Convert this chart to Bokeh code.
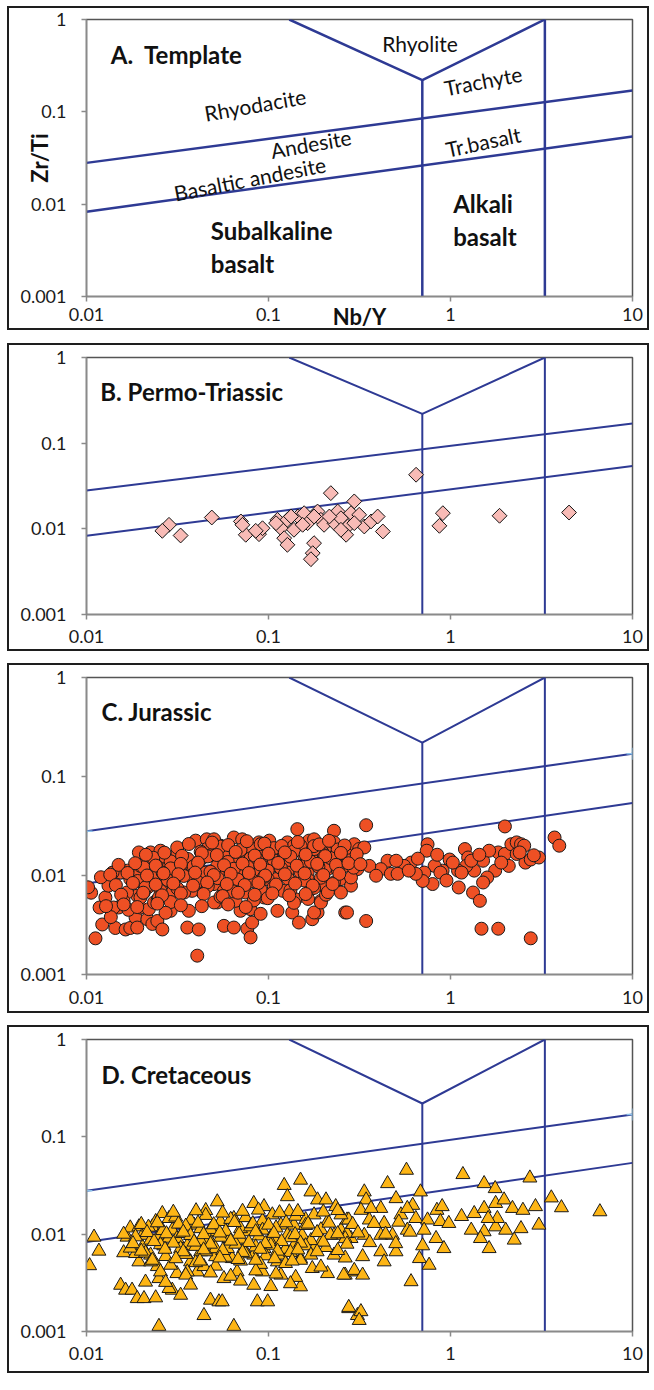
import numpy as np
from bokeh.plotting import figure
from bokeh.layouts import column
from bokeh.models import Range1d, FixedTicker, NumeralTickFormatter
from bokeh.core.properties import value
from bokeh.embed import file_html
from bokeh.resources import INLINE

FONT = "Lato"
LINE_BLUE = "#2E3A94"
INK = "#111111"

# ---- axis ticks ----
x_ticks = [0.01, 0.1, 1, 10]
y_ticks = [0.001, 0.01, 0.1, 1]

# ---- field boundaries (Nb/Y vs Zr/Ti) ----
upper_x = [0.01, 10]
upper_y = [0.028, 0.17]
lower_x = [0.01, 10]
lower_y = [0.0083, 0.054]
chevron_x = [0.13, 0.7, 3.3]
chevron_y = [1.0, 0.22, 1.0]
split_x = [0.7, 0.7]
split_y = [0.001, 0.22]
alkali_x = [3.3, 3.3]
alkali_y = [0.001, 1.0]
anchor_x = [0.01, 10]
anchor_y = [0.028, 0.17]

# ---- field names (template panel) ----
field_names = ["Rhyolite", "Trachyte", "Rhyodacite", "Andesite", "Basaltic andesite", "Tr.basalt"]
field_x = [0.68, 1.51, 0.0845, 0.171, 0.079, 1.51]
field_y = [0.55, 0.218, 0.120, 0.0454, 0.019, 0.0477]
field_angle_deg = [0, 11, 10, 10, 11, 12]

basalt_names = ["Subalkaline", "basalt", "Alkali", "basalt"]
basalt_x = [0.0482, 0.0482, 1.035, 1.035]
basalt_y = [0.00519, 0.00228, 0.01016, 0.00447]

# ---- B. Permo-Triassic ----
b_nby = [0.647, 0.220, 0.296, 0.0488, 0.0284, 0.0261, 0.0329, 0.0705, 0.0750, 0.0887,
         0.0927, 0.112, 0.117, 0.122, 0.127, 0.127, 0.138, 0.145, 0.157, 0.164,
         0.178, 0.175, 0.171, 0.186, 0.194, 0.202, 0.230, 0.240, 0.250, 0.272,
         0.267, 0.284, 0.315, 0.336, 0.366, 0.398, 0.425, 0.154, 0.133, 0.110,
         0.216, 0.250, 0.296, 0.178, 0.0851, 0.0719, 0.908, 0.869, 1.86, 4.48]
b_zrti = [0.0428, 0.0261, 0.0209, 0.01356, 0.01114, 0.00948, 0.00836, 0.0122, 0.00852, 0.00866,
          0.01017, 0.01275, 0.01017, 0.00778, 0.00651, 0.01275, 0.00975, 0.01393, 0.01523, 0.01164,
          0.00680, 0.00520, 0.00442, 0.01593, 0.01275, 0.01114, 0.01164, 0.01593, 0.0133, 0.01065,
          0.00852, 0.01523, 0.01459, 0.01065, 0.0122, 0.01393, 0.00931, 0.01114, 0.01393, 0.01164,
          0.01393, 0.00975, 0.01164, 0.01393, 0.00948, 0.01114, 0.01523, 0.01084, 0.0142, 0.0155]

# ---- C. Jurassic ----
c_nby = [0.0106, 0.0102, 0.0112, 0.0118, 0.0122, 0.0144, 0.0150, 0.0154, 0.0164, 0.0174,
         0.0186, 0.0190, 0.0194, 0.0198, 0.0216, 0.0220, 0.0230, 0.0235, 0.0245, 0.0261,
         0.0174, 0.0186, 0.0211, 0.0225, 0.0245, 0.0255, 0.0266, 0.0284, 0.0290, 0.0302,
         0.0322, 0.0329, 0.0296, 0.0358, 0.0365, 0.0373, 0.0398, 0.0414, 0.0406, 0.0424,
         0.0458, 0.0458, 0.0452, 0.0502, 0.0523, 0.0545, 0.0557, 0.0569, 0.0569, 0.0645,
         0.0632, 0.0645, 0.0702, 0.0702, 0.0717, 0.0748, 0.0765, 0.0797, 0.0813, 0.0797,
         0.0868, 0.0886, 0.0905, 0.0945, 0.101, 0.103, 0.110, 0.112, 0.117, 0.127,
         0.132, 0.135, 0.141, 0.144, 0.147, 0.150, 0.157, 0.167, 0.171, 0.174,
         0.186, 0.194, 0.198, 0.207, 0.229, 0.239, 0.250, 0.264, 0.264, 0.284,
         0.296, 0.0480, 0.0523, 0.0595, 0.0620, 0.0765, 0.0813, 0.0945, 0.0990, 0.112,
         0.120, 0.138, 0.147, 0.164, 0.178, 0.211, 0.219, 0.255, 0.284, 0.0380,
         0.0344, 0.0309, 0.0255, 0.0225, 0.0198, 0.0167, 0.0141, 0.0190, 0.0868, 0.0672,
         0.127, 0.150, 0.178, 0.198, 0.0905, 0.0717, 0.0502, 0.0424, 0.0380, 0.0442,
         0.0502, 0.0659, 0.0905, 0.344, 1.99, 3.73, 3.96, 0.748, 0.740, 1.20,
         1.25, 1.51, 1.83, 1.99, 2.16, 2.31, 2.44, 2.54, 2.31, 2.58,
         2.76, 3.06, 2.09, 1.76, 1.59, 1.35, 1.22, 1.10, 0.989, 0.905,
         0.818, 0.797, 0.718, 0.703, 0.607, 0.556, 0.451, 0.414, 0.470, 0.358,
         0.315, 0.336, 0.308, 1.11, 1.33, 1.45, 0.880, 0.645, 0.512, 0.390,
         0.270, 0.344, 1.48, 1.83, 2.76, 1.51, 1.15, 1.90, 2.40, 2.87,
         0.178, 0.194, 0.229, 0.239, 0.262, 0.202, 0.207, 0.178, 0.164, 0.284,
         0.229, 0.194, 0.164, 0.250, 0.207, 0.503, 0.590, 0.662, 0.845, 1.03,
         1.30, 1.63, 1.44, 0.950, 0.0225, 0.0270, 0.0316,
         # dense core of the Jurassic cloud
         0.0255, 0.0315, 0.0424, 0.0545, 0.0702, 0.107, 0.138, 0.178, 0.240,
         0.0233, 0.0290, 0.0360, 0.0464, 0.0597, 0.0797, 0.107, 0.132, 0.171, 0.219, 0.284,
         0.0206, 0.0246, 0.0290, 0.0388, 0.0480, 0.0645, 0.0769, 0.0990, 0.117, 0.150, 0.188, 0.240, 0.294,
         0.0191, 0.0233, 0.0279, 0.0342, 0.0408, 0.0526, 0.0677, 0.0797, 0.0945, 0.128, 0.157, 0.194,
         0.0217, 0.0255, 0.0316, 0.0464, 0.0645, 0.0905, 0.107, 0.132, 0.178, 0.212,
         0.0160, 0.0198, 0.0246, 0.0290, 0.0545, 0.0830, 0.0990, 0.138, 0.165,
         0.0127, 0.0136, 0.0170, 0.0206, 0.0250, 0.0272, 0.0132, 0.0120, 0.0139, 0.0168,
         0.0211, 0.0262,
         0.0365, 0.0490, 0.0600, 0.0760, 0.0950, 0.118, 0.145, 0.190, 0.215, 0.262,
         0.0212, 0.0268, 0.0335, 0.0430, 0.0520, 0.0660, 0.0840, 0.100, 0.123, 0.160, 0.205, 0.250, 0.305,
         0.0150, 0.0185, 0.0240, 0.0330, 0.0410, 0.0570, 0.0720, 0.0900, 0.113, 0.143, 0.185, 0.235, 0.275, 0.320,
         0.0135, 0.0168, 0.0215, 0.0265, 0.0320, 0.0395, 0.0500, 0.0620, 0.0780, 0.0960, 0.123, 0.158, 0.200, 0.245,
         0.0145, 0.0180, 0.0240, 0.0300, 0.0385, 0.0460, 0.0590, 0.0740, 0.0880, 0.110, 0.140, 0.175, 0.225,
         0.0155, 0.0205, 0.0260, 0.0330, 0.0440, 0.0560, 0.0680, 0.0840, 0.105, 0.130, 0.160,
         0.0128, 0.0160, 0.0190, 0.0245, 0.0330, 0.0430, 0.0600, 0.0750]
c_zrti = [0.0067, 0.0076, 0.00232, 0.00475, 0.00320, 0.00295, 0.00475, 0.0107, 0.00285, 0.00295,
          0.00377, 0.00625, 0.0171, 0.00475, 0.00362, 0.00457, 0.00324, 0.00534, 0.00347, 0.00285,
          0.00920, 0.00995, 0.00920, 0.0135, 0.0125, 0.00920, 0.00673, 0.0125, 0.00440, 0.00920,
          0.0160, 0.0112, 0.00673, 0.00298, 0.00440, 0.00995, 0.0225, 0.00285, 0.00155, 0.00700,
          0.0232, 0.0185, 0.0107, 0.00820, 0.00534, 0.0200, 0.0116, 0.00700, 0.00310, 0.0242,
          0.00850, 0.00298, 0.0160, 0.00440, 0.0107, 0.00673, 0.00290, 0.00237, 0.00335, 0.00457,
          0.00920, 0.0216, 0.0112, 0.00600, 0.0225, 0.0135, 0.00920, 0.00440, 0.0185, 0.0216,
          0.0135, 0.00423, 0.00575, 0.0294, 0.00335, 0.00920, 0.0160, 0.0225, 0.00730, 0.00362,
          0.00423, 0.00555, 0.0116, 0.0192, 0.0283, 0.0160, 0.00920, 0.0178, 0.00423, 0.0125,
          0.0207, 0.0160, 0.0125, 0.0160, 0.0107, 0.0135, 0.0185, 0.0160, 0.00920, 0.0125,
          0.00700, 0.0200, 0.0125, 0.0107, 0.0145, 0.0116, 0.00790, 0.0125, 0.00790, 0.00700,
          0.00673, 0.0135, 0.0160, 0.00920, 0.0125, 0.00673, 0.00475, 0.00298, 0.0145, 0.0130,
          0.0107, 0.0200, 0.0232, 0.0171, 0.0207, 0.0232, 0.0232, 0.0145, 0.0125, 0.00730,
          0.00534, 0.00555, 0.00410, 0.0322, 0.0313, 0.0242, 0.0200, 0.0207, 0.0178, 0.0185,
          0.0152, 0.0141, 0.0171, 0.0165, 0.0207, 0.0216, 0.0207, 0.0200, 0.0165, 0.0135,
          0.0145, 0.0152, 0.0125, 0.0112, 0.00955, 0.0112, 0.0125, 0.0112, 0.0145, 0.0112,
          0.0125, 0.00820, 0.0107, 0.00880, 0.0135, 0.0125, 0.0141, 0.0116, 0.0104, 0.0125,
          0.0185, 0.0192, 0.0116, 0.00757, 0.00673, 0.00555, 0.0107, 0.0104, 0.0104, 0.00995,
          0.00423, 0.00347, 0.00290, 0.00290, 0.00232, 0.00850, 0.0107, 0.0135, 0.0171, 0.0160,
          0.00423, 0.00534, 0.0216, 0.0171, 0.0125, 0.0160, 0.0120, 0.0185, 0.0135, 0.00955,
          0.00850, 0.00820, 0.00920, 0.00673, 0.00640, 0.0141, 0.0112, 0.0148, 0.0162, 0.0135,
          0.0141, 0.0178, 0.0162, 0.0089, 0.0171, 0.0155, 0.0165,
          0.0178, 0.0192, 0.0174, 0.0196, 0.0181, 0.0189, 0.0176, 0.0198, 0.0183,
          0.0151, 0.0139, 0.0147, 0.0156, 0.0137, 0.0149, 0.0142, 0.0155, 0.0138, 0.0150, 0.0143,
          0.0121, 0.0110, 0.0118, 0.0124, 0.0109, 0.0117, 0.0122, 0.0112, 0.0119, 0.0108, 0.0123, 0.0114, 0.0120,
          0.0088, 0.0096, 0.0090, 0.0099, 0.0086, 0.0094, 0.0091, 0.0087, 0.0097, 0.0093, 0.0089, 0.0095,
          0.0076, 0.0070, 0.0074, 0.0078, 0.0069, 0.0072, 0.0077, 0.0071, 0.0075, 0.0068,
          0.0055, 0.0060, 0.0057, 0.0054, 0.0061, 0.0056, 0.0059, 0.0053, 0.0058,
          0.0060, 0.0038, 0.0045, 0.0067, 0.0060, 0.0042, 0.0079, 0.0096, 0.0107, 0.0112,
          0.0076, 0.0107,
          0.0208, 0.0215, 0.0203, 0.0222, 0.0210, 0.0199, 0.0218, 0.0206, 0.0224, 0.0201,
          0.0162, 0.0170, 0.0158, 0.0168, 0.0161, 0.0173, 0.0159, 0.0166, 0.0171, 0.0163, 0.0157, 0.0169, 0.0164,
          0.0128, 0.0133, 0.0126, 0.0131, 0.0135, 0.0127, 0.0132, 0.0129, 0.0134, 0.0126, 0.0131, 0.0128, 0.0133, 0.0130,
          0.0102, 0.0106, 0.0100, 0.0105, 0.0103, 0.0107, 0.0101, 0.0104, 0.0106, 0.0100, 0.0103, 0.0105, 0.0101, 0.0104,
          0.0080, 0.0084, 0.0081, 0.0083, 0.0079, 0.0085, 0.0082, 0.0080, 0.0084, 0.0081, 0.0083, 0.0079, 0.0082,
          0.0064, 0.0067, 0.0063, 0.0066, 0.0065, 0.0062, 0.0067, 0.0064, 0.0066, 0.0063, 0.0065,
          0.0049, 0.0051, 0.0048, 0.0052, 0.0050, 0.0049, 0.0051, 0.0048]

# ---- D. Cretaceous ----
d_nby = [0.0110, 0.0117, 0.0104, 0.0160, 0.0154, 0.0164, 0.0178, 0.0190, 0.0207, 0.0240,
         0.0211, 0.0194, 0.0186, 0.0203, 0.0225, 0.0245, 0.0250, 0.0167, 0.0174, 0.0194,
         0.0203, 0.0230, 0.0250, 0.0240, 0.0261, 0.0284, 0.0296, 0.0314, 0.0296, 0.0314,
         0.0284, 0.0329, 0.0336, 0.0358, 0.0390, 0.0424, 0.0452, 0.0470, 0.0406, 0.0442,
         0.0480, 0.0442, 0.0534, 0.0557, 0.0523, 0.0545, 0.0512, 0.0569, 0.0606, 0.0645,
         0.0632, 0.0672, 0.0731, 0.0780, 0.0830, 0.0830, 0.0868, 0.0990, 0.0927, 0.0945,
         0.105, 0.107, 0.112, 0.117, 0.122, 0.127, 0.130, 0.138, 0.138, 0.150,
         0.150, 0.153, 0.171, 0.178, 0.174, 0.186, 0.194, 0.207, 0.211, 0.211,
         0.229, 0.234, 0.250, 0.264, 0.270, 0.276, 0.284, 0.296, 0.308, 0.0250,
         0.0645, 0.0329, 0.0373, 0.0480, 0.0523, 0.0424, 0.0702, 0.0945, 0.117, 0.117,
         0.127, 0.150, 0.178, 0.229, 0.0830, 0.0595, 0.0358, 0.0266, 0.573, 0.451,
         1.17, 1.53, 1.76, 2.73, 3.58, 4.07, 6.62, 0.336, 0.344, 0.502,
         0.684, 0.620, 0.414, 0.322, 0.276, 0.358, 0.432, 0.270, 0.336, 0.414,
         0.480, 0.579, 0.645, 0.748, 0.716, 0.842, 0.900, 0.880, 0.979, 0.833,
         0.920, 0.703, 1.15, 1.35, 1.53, 1.77, 1.97, 2.19, 2.50, 2.93,
         1.30, 1.53, 1.77, 2.01, 2.44, 3.06, 1.46, 1.63, 2.24, 1.81,
         1.61, 0.329, 0.414, 0.432, 0.502, 0.675, 0.763, 0.296, 0.259, 0.329,
         0.607, 0.276, 0.322, 0.315, 0.366, 0.534, 0.579,
         # dense core of the Cretaceous cloud
         0.0309, 0.0373, 0.0452, 0.0620, 0.0748, 0.0927, 0.141, 0.160, 0.250,
         0.0219, 0.0262, 0.0351, 0.0480, 0.0582, 0.0797, 0.0927, 0.110, 0.160, 0.194,
         0.0186, 0.0225, 0.0283, 0.0373, 0.0424, 0.0545, 0.0702, 0.0886, 0.101, 0.132, 0.171, 0.219, 0.264,
         0.0174, 0.0255, 0.0398, 0.0512, 0.0661, 0.0851, 0.103, 0.124, 0.160, 0.207,
         0.0211, 0.0272, 0.0351, 0.0452, 0.0582, 0.0748, 0.0966, 0.132, 0.171, 0.264,
         0.0225, 0.0290, 0.0398, 0.0512, 0.0702, 0.0905, 0.124, 0.150, 0.194,
         0.0255, 0.0351, 0.0480, 0.0620, 0.0851, 0.110, 0.141,
         0.0272, 0.0373, 0.0702, 0.103, 0.132,
         0.0300, 0.0400, 0.0560, 0.0720, 0.0880, 0.115, 0.145, 0.200, 0.240,
         0.0200, 0.0245, 0.0320, 0.0410, 0.0500, 0.0650, 0.0820, 0.100, 0.125, 0.165, 0.215, 0.290, 0.380, 0.520,
         0.0160, 0.0215, 0.0275, 0.0340, 0.0440, 0.0540, 0.0690, 0.0850, 0.107, 0.140, 0.185, 0.240, 0.310, 0.440, 0.600,
         0.0180, 0.0235, 0.0300, 0.0390, 0.0480, 0.0620, 0.0780, 0.0960, 0.118, 0.150, 0.200, 0.270, 0.360, 0.500,
         0.0200, 0.0270, 0.0340, 0.0440, 0.0560, 0.0720, 0.0900, 0.112, 0.145, 0.185, 0.240,
         0.0230, 0.0310, 0.0420, 0.0540, 0.0680, 0.0850, 0.108, 0.135]
d_zrti = [0.00933, 0.00670, 0.00475, 0.00645, 0.00299, 0.00266, 0.00266, 0.00218, 0.00218, 0.00222,
          0.00322, 0.00520, 0.00633, 0.00740, 0.00610, 0.00465, 0.00350, 0.00933, 0.0116, 0.0119,
          0.00975, 0.0119, 0.00975, 0.0135, 0.0163, 0.0145, 0.0110, 0.00903, 0.00266, 0.00394,
          0.00277, 0.00236, 0.01016, 0.00760, 0.0124, 0.0114, 0.0175, 0.00903, 0.00410, 0.00465,
          0.00210, 0.00146, 0.00202, 0.00202, 0.0215, 0.0135, 0.00588, 0.00350, 0.00903, 0.0145,
          0.00562, 0.00410, 0.00712, 0.0106, 0.0207, 0.00299, 0.00202, 0.00202, 0.00410, 0.0192,
          0.0158, 0.00903, 0.00520, 0.00380, 0.0317, 0.0243, 0.0170, 0.0124, 0.00760, 0.0359,
          0.00288, 0.00975, 0.0272, 0.0158, 0.00444, 0.0225, 0.00830, 0.0225, 0.0135, 0.00394,
          0.00610, 0.0192, 0.0110, 0.00380, 0.0140, 0.00172, 0.00903, 0.00410, 0.00146, 0.00113,
          0.00113, 0.00712, 0.00520, 0.00712, 0.0106, 0.00660, 0.0114, 0.00712, 0.0124, 0.00610,
          0.00975, 0.00562, 0.00712, 0.00975, 0.00610, 0.00712, 0.00410, 0.00760, 0.0454, 0.0331,
          0.0410, 0.0331, 0.0294, 0.0378, 0.0236, 0.0187, 0.0170, 0.0272, 0.0225, 0.0232,
          0.0272, 0.0198, 0.0184, 0.0176, 0.0140, 0.0140, 0.0129, 0.01016, 0.00975, 0.00975,
          0.00975, 0.0110, 0.0145, 0.0140, 0.0110, 0.0176, 0.0192, 0.0135, 0.0129, 0.00903,
          0.00712, 0.00760, 0.0152, 0.0163, 0.0184, 0.0207, 0.0225, 0.0184, 0.0176, 0.0192,
          0.0110, 0.0106, 0.0119, 0.0110, 0.0114, 0.0124, 0.00903, 0.00712, 0.00870, 0.0145,
          0.0145, 0.00588, 0.00660, 0.00520, 0.00660, 0.00562, 0.00480, 0.00425, 0.00380, 0.00380,
          0.00325, 0.00177, 0.00160, 0.00130, 0.0184, 0.0158, 0.0184,
          0.0150, 0.0139, 0.0156, 0.0142, 0.0148, 0.0137, 0.0153, 0.0141, 0.0158,
          0.0118, 0.0109, 0.0121, 0.0112, 0.0107, 0.0119, 0.0110, 0.0116, 0.0123, 0.0111,
          0.0094, 0.0087, 0.0091, 0.0097, 0.0085, 0.0093, 0.0089, 0.0096, 0.0088, 0.0092,
          0.0086, 0.0098, 0.0090,
          0.0072, 0.0078, 0.0075, 0.0071, 0.0079, 0.0074, 0.0077, 0.0070, 0.0076, 0.0073,
          0.0064, 0.0059, 0.0062, 0.0066, 0.0058, 0.0063, 0.0060, 0.0065, 0.0061, 0.0057,
          0.0052, 0.0048, 0.0051, 0.0047, 0.0053, 0.0049, 0.0050, 0.0054, 0.0046,
          0.0041, 0.0038, 0.0040, 0.0037, 0.0042, 0.0039, 0.0036,
          0.0032, 0.0030, 0.0033, 0.0029, 0.0031,
          0.0168, 0.0174, 0.0165, 0.0172, 0.0177, 0.0166, 0.0171, 0.0169, 0.0175,
          0.0126, 0.0131, 0.0127, 0.0130, 0.0125, 0.0132, 0.0128, 0.0124, 0.0131, 0.0127, 0.0130, 0.0126, 0.0129, 0.0133,
          0.0100, 0.0104, 0.0101, 0.0105, 0.0099, 0.0103, 0.0100, 0.0106, 0.0102, 0.0099, 0.0104, 0.0101, 0.0103, 0.0100, 0.0105,
          0.0080, 0.0084, 0.0081, 0.0083, 0.0079, 0.0085, 0.0082, 0.0080, 0.0084, 0.0081, 0.0083, 0.0079, 0.0082, 0.0080,
          0.0067, 0.0070, 0.0066, 0.0069, 0.0068, 0.0065, 0.0070, 0.0067, 0.0069, 0.0066, 0.0068,
          0.0054, 0.0056, 0.0053, 0.0057, 0.0055, 0.0054, 0.0056, 0.0053]


def make_panel(canvas_h, top_border, bottom_border, gap, x_standoff, line_w):
    p = figure(width=642, height=canvas_h,
               x_axis_type="log", y_axis_type="log",
               x_range=Range1d(0.01, 10), y_range=Range1d(0.001, 1),
               output_backend="svg", toolbar_location=None,
               min_border_left=77, min_border_right=19,
               min_border_top=top_border, min_border_bottom=bottom_border,
               margin=(gap, 0, 0, 7),
               styles={"border": "2px solid #1e1e1e"},
               background_fill_color="white", border_fill_color="white")
    p.grid.visible = False
    p.outline_line_color = "#555555"
    p.outline_line_width = 1.5
    p.xaxis.ticker = FixedTicker(ticks=x_ticks)
    p.yaxis.ticker = FixedTicker(ticks=y_ticks)
    for ax in (p.xaxis[0], p.yaxis[0]):
        ax.formatter = NumeralTickFormatter(format="0.[000]")
        ax.axis_line_color = "#8a8a8a"
        ax.axis_line_width = 1.5
        ax.major_tick_line_color = "#8a8a8a"
        ax.major_tick_line_width = 1.5
        ax.major_tick_out = 5
        ax.major_tick_in = 0
        ax.minor_tick_line_color = None
        ax.major_label_text_font = FONT
        ax.major_label_text_font_size = "18px"
        ax.major_label_text_color = "#1a1a1a"
    p.xaxis.major_label_standoff = x_standoff
    p.yaxis.major_label_standoff = 15

    kw = dict(line_color=LINE_BLUE, line_width=line_w)
    p.line(upper_x, upper_y, **kw)
    p.line(lower_x, lower_y, **kw)
    p.line(chevron_x, chevron_y, **kw)
    p.line(split_x, split_y, **kw)
    p.line(alkali_x, alkali_y, **kw)
    return p


def panel_title(p, text, x, y):
    p.text(x=[x], y=[y], text=[text], text_font=value(FONT), text_font_style="bold",
           text_font_size="24px", text_align="left", text_baseline="middle",
           text_color=INK)


# A. Template
pa = make_panel(324, 11, 36, 6, 6, 2.5)
panel_title(pa, "A.\u00a0 Template", 0.0136, 0.418)
pa.text(x=field_x, y=field_y, text=field_names,
        angle=[np.deg2rad(a) for a in field_angle_deg],
        text_font=value(FONT), text_font_size="21px", text_align="center",
        text_baseline="middle", text_color=INK)
pa.text(x=basalt_x, y=basalt_y, text=basalt_names, text_font=value(FONT),
        text_font_style="bold", text_font_size="24px", text_align="left",
        text_baseline="middle", text_color=INK)
for ax, name, standoff in ((pa.yaxis[0], "Zr/Ti", -36), (pa.xaxis[0], "Nb/Y", -21)):
    ax.axis_label = name
    ax.axis_label_text_font = FONT
    ax.axis_label_text_font_style = "bold"
    ax.axis_label_text_font_size = "22px"
    ax.axis_label_text_color = INK
    ax.axis_label_standoff = standoff

# B. Permo-Triassic
pb = make_panel(308, 12, 39, 13, 10, 2)
panel_title(pb, "B. Permo-Triassic", 0.0119, 0.40)
pb.scatter(b_nby, b_zrti, marker="square", angle=np.pi / 4, size=10.5,
           fill_color="#F8BBB6", line_color=INK, line_width=1)

# C. Jurassic
pc = make_panel(350, 12, 41, 12, 11, 2)
panel_title(pc, "C. Jurassic", 0.0121, 0.449)
pc.scatter(c_nby, c_zrti, marker="circle", size=13,
           fill_color="#EE5024", line_color="#1a1a1a", line_width=1)
pc.scatter(anchor_x, anchor_y, marker="cross", size=12,
           line_color="#8DC3E9", line_width=1.5)

# D. Cretaceous
pd_ = make_panel(348, 12, 44, 12, 10, 2)
panel_title(pd_, "D. Cretaceous", 0.0121, 0.442)
pd_.scatter(d_nby, d_zrti, marker="triangle", size=14,
            fill_color="#FDB515", line_color="#1a1a1a", line_width=1)
pd_.scatter(anchor_x, anchor_y, marker="cross", size=12,
            line_color="#8DC3E9", line_width=1.5)

layout = column(pa, pb, pc, pd_)
open("out.html", "w").write(file_html(layout, INLINE))
